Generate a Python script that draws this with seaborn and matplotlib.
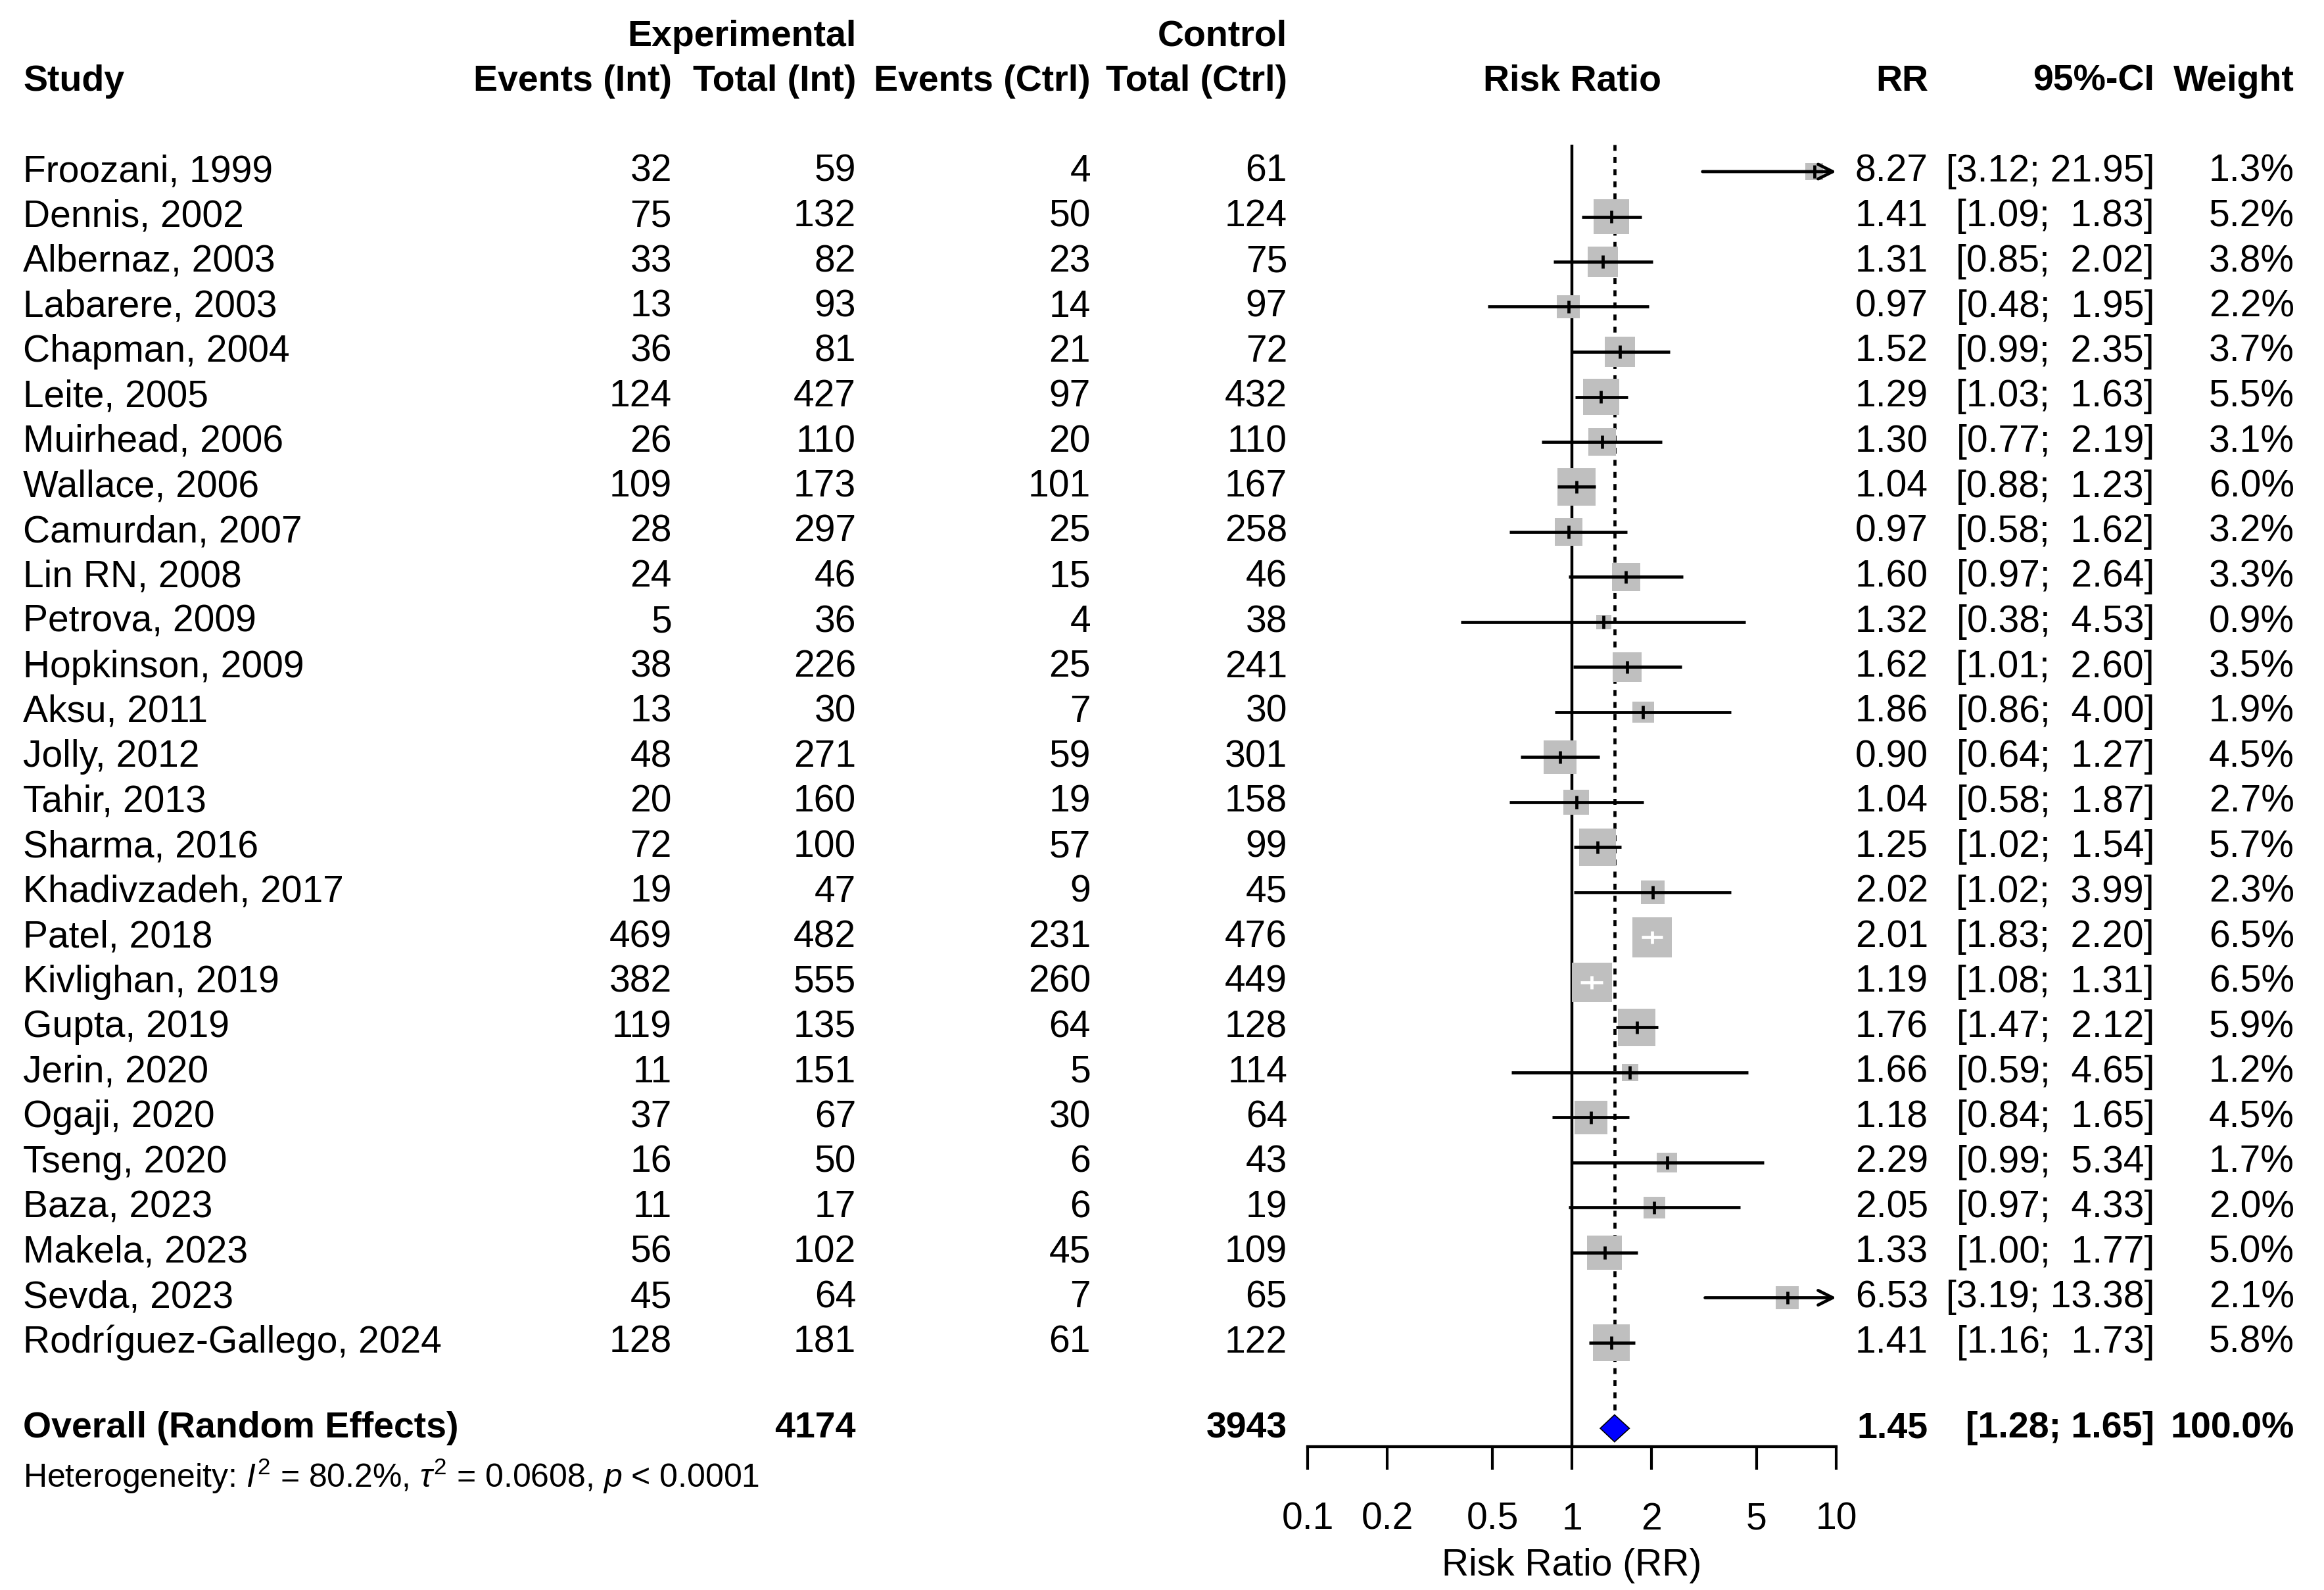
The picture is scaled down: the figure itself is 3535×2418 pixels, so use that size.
import numpy as np
import pandas as pd
import seaborn as sns
import matplotlib.pyplot as plt
from matplotlib.ticker import NullLocator
from matplotlib.transforms import blended_transform_factory

# study data
studies = ['Froozani, 1999', 'Dennis, 2002', 'Albernaz, 2003', 'Labarere, 2003', 'Chapman, 2004',
           'Leite, 2005', 'Muirhead, 2006', 'Wallace, 2006', 'Camurdan, 2007', 'Lin RN, 2008',
           'Petrova, 2009', 'Hopkinson, 2009', 'Aksu, 2011', 'Jolly, 2012', 'Tahir, 2013',
           'Sharma, 2016', 'Khadivzadeh, 2017', 'Patel, 2018', 'Kivlighan, 2019', 'Gupta, 2019',
           'Jerin, 2020', 'Ogaji, 2020', 'Tseng, 2020', 'Baza, 2023', 'Makela, 2023',
           'Sevda, 2023', 'Rodríguez-Gallego, 2024']
ev_int = [32, 75, 33, 13, 36, 124, 26, 109, 28, 24, 5, 38, 13, 48, 20, 72, 19, 469, 382, 119,
          11, 37, 16, 11, 56, 45, 128]
tot_int = [59, 132, 82, 93, 81, 427, 110, 173, 297, 46, 36, 226, 30, 271, 160, 100, 47, 482,
           555, 135, 151, 67, 50, 17, 102, 64, 181]
ev_ctrl = [4, 50, 23, 14, 21, 97, 20, 101, 25, 15, 4, 25, 7, 59, 19, 57, 9, 231, 260, 64,
           5, 30, 6, 6, 45, 7, 61]
tot_ctrl = [61, 124, 75, 97, 72, 432, 110, 167, 258, 46, 38, 241, 30, 301, 158, 99, 45, 476,
            449, 128, 114, 64, 43, 19, 109, 65, 122]
rr = [8.27, 1.41, 1.31, 0.97, 1.52, 1.29, 1.30, 1.04, 0.97, 1.60, 1.32, 1.62, 1.86, 0.90,
      1.04, 1.25, 2.02, 2.01, 1.19, 1.76, 1.66, 1.18, 2.29, 2.05, 1.33, 6.53, 1.41]
ci_lo = [3.12, 1.09, 0.85, 0.48, 0.99, 1.03, 0.77, 0.88, 0.58, 0.97, 0.38, 1.01, 0.86, 0.64,
         0.58, 1.02, 1.02, 1.83, 1.08, 1.47, 0.59, 0.84, 0.99, 0.97, 1.00, 3.19, 1.16]
ci_hi = [21.95, 1.83, 2.02, 1.95, 2.35, 1.63, 2.19, 1.23, 1.62, 2.64, 4.53, 2.60, 4.00, 1.27,
         1.87, 1.54, 3.99, 2.20, 1.31, 2.12, 4.65, 1.65, 5.34, 4.33, 1.77, 13.38, 1.73]
weight = [1.3, 5.2, 3.8, 2.2, 3.7, 5.5, 3.1, 6.0, 3.2, 3.3, 0.9, 3.5, 1.9, 4.5, 2.7, 5.7, 2.3,
          6.5, 6.5, 5.9, 1.2, 4.5, 1.7, 2.0, 5.0, 2.1, 5.8]

# pooled estimate
overall_rr, overall_lo, overall_hi = 1.45, 1.28, 1.65
heterogeneity = r'Heterogeneity: $I^2$ = 80.2%, $\tau^2$ = 0.0608, $p$ < 0.0001'

df = pd.DataFrame({'study': studies, 'ev_int': ev_int, 'tot_int': tot_int,
                   'ev_ctrl': ev_ctrl, 'tot_ctrl': tot_ctrl, 'rr': rr,
                   'lo': ci_lo, 'hi': ci_hi, 'weight': weight})
df['y'] = np.arange(len(df))
y_overall = len(df) + 0.9
y_het = len(df) + 1.96
y_axis = 28.31

sns.set_theme(style='white')
plt.rcParams['font.family'] = ['Liberation Sans', 'DejaVu Sans']
plt.rcParams['text.color'] = 'black'
plt.rcParams['axes.labelcolor'] = 'black'
plt.rcParams['xtick.color'] = 'black'
plt.rcParams['mathtext.fontset'] = 'custom'
plt.rcParams['mathtext.rm'] = 'Liberation Sans'
plt.rcParams['mathtext.it'] = 'Liberation Sans:italic'

W, H = 3535, 2418
FS = 41     # regular text
FSB = 40    # bold text
LW = 3.4
fig = plt.figure(figsize=(W / 100, H / 100), dpi=100)
fig.patch.set_facecolor('white')

# forest panel: x from 0.1 to 10, rows -0.6 .. y_axis
row0_px, row_px = 261, 68.5
top_px = row0_px - 0.6 * row_px
bot_px = row0_px + y_axis * row_px
ax = fig.add_axes([1989 / W, 1 - bot_px / H, 804 / W, (bot_px - top_px) / H])
ax.set_facecolor('none')
ax.set_xscale('log')
ax.set_xlim(0.1, 10)
ax.set_ylim(y_axis, -0.6)

# squares, area proportional to weight
sizes = df['weight'].values * 290
sns.scatterplot(data=df, x='rr', y='y', s=sizes, marker='s', color='#BFBFBF',
                linewidth=0, legend=False, ax=ax, zorder=2)

# CI lines are drawn white when they fit inside the square
px_per_dec = ax.get_window_extent().width / 2
half = np.sqrt(sizes) / 72 * fig.dpi / 2 / px_per_dec
inside = (np.log10(df['lo']) >= np.log10(df['rr']) - half) & \
         (np.log10(df['hi']) <= np.log10(df['rr']) + half)

for i, row in df.iterrows():
    col = 'white' if inside[i] else 'black'
    if row['hi'] > 10:
        ax.annotate('', xy=(10, row['y']), xytext=(row['lo'], row['y']),
                    arrowprops=dict(arrowstyle='->', lw=LW, color=col,
                                    mutation_scale=40, shrinkA=0, shrinkB=0), zorder=3)
    else:
        ax.hlines(row['y'], row['lo'], row['hi'], colors=col, lw=LW, zorder=3)
    ax.vlines(row['rr'], row['y'] - 0.14, row['y'] + 0.14, colors=col, lw=LW, zorder=4)

# reference lines
ax.vlines(1, -0.6, y_axis, colors='black', lw=3.2, zorder=1)
ax.vlines(overall_rr, -0.6, y_overall - 0.3, colors='black', lw=LW,
          linestyles=(0, (1.9, 2.0)), zorder=1)

# diamond
ax.fill([overall_lo, overall_rr, overall_hi, overall_rr],
        [y_overall, y_overall - 0.3, y_overall, y_overall + 0.3],
        facecolor='blue', edgecolor='black', lw=1.2, zorder=5)

ax.set_xticks([0.1, 0.2, 0.5, 1, 2, 5, 10])
ax.set_xticklabels(['0.1', '0.2', '0.5', '1', '2', '5', '10'])
ax.xaxis.set_minor_locator(NullLocator())
ax.set_yticks([])
ax.set_ylabel('')
ax.tick_params(axis='x', direction='out', length=25, width=3, pad=35,
               labelsize=FS, bottom=True, color='black', labelcolor='black')
for s in ['top', 'left', 'right']:
    ax.spines[s].set_visible(False)
ax.spines['bottom'].set_linewidth(3.1)
ax.spines['bottom'].set_color('black')
ax.set_xlabel('Risk Ratio (RR)', fontsize=FS, labelpad=12, color='black')
ax.grid(False)

# table text
tr = blended_transform_factory(fig.transFigure, ax.transData)


def put(px, y, s, ha='right', bold=False, size=None):
    if size is None:
        size = FSB if bold else FS
    fig.text(px / W, y, s, transform=tr, ha=ha, va='center', fontsize=size,
             fontweight='bold' if bold else 'normal', color='black')


X_STUDY, X_EVI, X_TOTI, X_EVC, X_TOTC = 35, 1022, 1302, 1659, 1958
X_RR, X_CI, X_W = 2933, 3277, 3490

put(X_STUDY, -2, 'Study', ha='left', bold=True)
put(X_TOTI, -3, 'Experimental', bold=True)
put(X_TOTC, -3, 'Control', bold=True)
put(X_EVI, -2, 'Events (Int)', bold=True)
put(X_TOTI, -2, 'Total (Int)', bold=True)
put(X_EVC, -2, 'Events (Ctrl)', bold=True)
put(X_TOTC, -2, 'Total (Ctrl)', bold=True)
ax.text(1, -2, 'Risk Ratio', ha='center', va='center', fontsize=FSB, fontweight='bold',
        color='black')
put(X_RR, -2, 'RR', bold=True)
put(X_CI, -2, '95%-CI', bold=True)
put(X_W, -2, 'Weight', bold=True)

for _, row in df.iterrows():
    y = row['y']
    put(X_STUDY, y, row['study'], ha='left')
    put(X_EVI, y, str(row['ev_int']))
    put(X_TOTI, y, str(row['tot_int']))
    put(X_EVC, y, str(row['ev_ctrl']))
    put(X_TOTC, y, str(row['tot_ctrl']))
    put(X_RR, y, f"{row['rr']:.2f}")
    put(X_CI, y, f"[{row['lo']:.2f}; {row['hi']:5.2f}]")
    put(X_W, y, f"{row['weight']:.1f}%")

put(X_STUDY, y_overall, 'Overall (Random Effects)', ha='left', bold=True)
put(X_TOTI, y_overall, str(df['tot_int'].sum()), bold=True)
put(X_TOTC, y_overall, str(df['tot_ctrl'].sum()), bold=True)
put(X_RR, y_overall, f'{overall_rr:.2f}', bold=True)
put(X_CI, y_overall, f'[{overall_lo:.2f}; {overall_hi:.2f}]', bold=True)
put(X_W, y_overall, f"{df['weight'].sum():.1f}%", bold=True)
put(X_STUDY, y_het, heterogeneity, ha='left', size=36)

fig.savefig('out.png', dpi=100)
